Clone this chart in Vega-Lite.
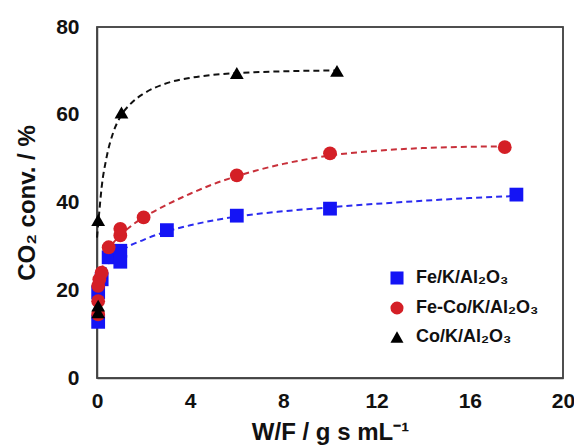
{
  "$schema": "https://vega.github.io/schema/vega-lite/v6.json",
  "width": 466,
  "height": 351,
  "autosize": {"type": "none"},
  "padding": {"left": 97, "top": 27, "right": 11, "bottom": 70},
  "background": "white",
  "config": {
    "font": "Liberation Sans",
    "view": {"stroke": "#444444", "strokeWidth": 1.5}
  },
  "datasets": {
    "frame": [
      {"x": 0, "xe": 20, "y": 0, "ye": 80}
    ],
    "pts": [
      {"s": "Fe/K/Al₂O₃", "x": 0.05, "y": 12.8},
      {"s": "Fe/K/Al₂O₃", "x": 0.05, "y": 19.5},
      {"s": "Fe/K/Al₂O₃", "x": 0.2, "y": 22.5},
      {"s": "Fe/K/Al₂O₃", "x": 0.5, "y": 27.5},
      {"s": "Fe/K/Al₂O₃", "x": 1.0, "y": 26.5},
      {"s": "Fe/K/Al₂O₃", "x": 1.0, "y": 29.0},
      {"s": "Fe/K/Al₂O₃", "x": 3.0, "y": 33.7},
      {"s": "Fe/K/Al₂O₃", "x": 6.0, "y": 37.0},
      {"s": "Fe/K/Al₂O₃", "x": 10.0, "y": 38.6},
      {"s": "Fe/K/Al₂O₃", "x": 18.0, "y": 41.8},
      {"s": "Fe-Co/K/Al₂O₃", "x": 0.05, "y": 14.5},
      {"s": "Fe-Co/K/Al₂O₃", "x": 0.05, "y": 17.5},
      {"s": "Fe-Co/K/Al₂O₃", "x": 0.05, "y": 21.0},
      {"s": "Fe-Co/K/Al₂O₃", "x": 0.1, "y": 22.5},
      {"s": "Fe-Co/K/Al₂O₃", "x": 0.2, "y": 24.0},
      {"s": "Fe-Co/K/Al₂O₃", "x": 0.5, "y": 29.8},
      {"s": "Fe-Co/K/Al₂O₃", "x": 1.0, "y": 32.5},
      {"s": "Fe-Co/K/Al₂O₃", "x": 1.0, "y": 34.0},
      {"s": "Fe-Co/K/Al₂O₃", "x": 2.0, "y": 36.6},
      {"s": "Fe-Co/K/Al₂O₃", "x": 6.0, "y": 46.2},
      {"s": "Fe-Co/K/Al₂O₃", "x": 10.0, "y": 51.2},
      {"s": "Fe-Co/K/Al₂O₃", "x": 17.5, "y": 52.6},
      {"s": "Co/K/Al₂O₃", "x": 0.05, "y": 15.0},
      {"s": "Co/K/Al₂O₃", "x": 0.05, "y": 16.5},
      {"s": "Co/K/Al₂O₃", "x": 0.05, "y": 36.0},
      {"s": "Co/K/Al₂O₃", "x": 1.05, "y": 60.5},
      {"s": "Co/K/Al₂O₃", "x": 6.0, "y": 69.5},
      {"s": "Co/K/Al₂O₃", "x": 10.3, "y": 70.0}
    ],
    "fit": [
      {"c": "Fe", "x": 0.1, "y": 19.5},
      {"c": "Fe", "x": 0.3, "y": 24.0},
      {"c": "Fe", "x": 0.6, "y": 26.8},
      {"c": "Fe", "x": 1.0, "y": 28.8},
      {"c": "Fe", "x": 2.0, "y": 31.5},
      {"c": "Fe", "x": 3.0, "y": 33.4},
      {"c": "Fe", "x": 4.0, "y": 34.8},
      {"c": "Fe", "x": 6.0, "y": 36.8},
      {"c": "Fe", "x": 8.0, "y": 38.0},
      {"c": "Fe", "x": 10.0, "y": 38.9},
      {"c": "Fe", "x": 12.0, "y": 39.7},
      {"c": "Fe", "x": 14.0, "y": 40.4},
      {"c": "Fe", "x": 16.0, "y": 41.0},
      {"c": "Fe", "x": 18.0, "y": 41.5},
      {"c": "FeCo", "x": 0.1, "y": 22.0},
      {"c": "FeCo", "x": 0.3, "y": 26.5},
      {"c": "FeCo", "x": 0.6, "y": 30.0},
      {"c": "FeCo", "x": 1.0, "y": 32.5},
      {"c": "FeCo", "x": 1.5, "y": 34.8},
      {"c": "FeCo", "x": 2.0, "y": 36.6},
      {"c": "FeCo", "x": 3.0, "y": 39.5},
      {"c": "FeCo", "x": 4.0, "y": 42.0},
      {"c": "FeCo", "x": 5.0, "y": 44.2},
      {"c": "FeCo", "x": 6.0, "y": 46.0},
      {"c": "FeCo", "x": 8.0, "y": 48.8},
      {"c": "FeCo", "x": 10.0, "y": 50.7},
      {"c": "FeCo", "x": 12.0, "y": 51.8},
      {"c": "FeCo", "x": 14.0, "y": 52.4},
      {"c": "FeCo", "x": 16.0, "y": 52.7},
      {"c": "FeCo", "x": 17.5, "y": 52.8},
      {"c": "Co", "x": 0.0, "y": 32.0},
      {"c": "Co", "x": 0.1, "y": 38.0},
      {"c": "Co", "x": 0.2, "y": 43.5},
      {"c": "Co", "x": 0.4, "y": 50.0},
      {"c": "Co", "x": 0.7, "y": 56.0},
      {"c": "Co", "x": 1.0, "y": 59.5},
      {"c": "Co", "x": 1.5, "y": 62.8},
      {"c": "Co", "x": 2.0, "y": 64.8},
      {"c": "Co", "x": 3.0, "y": 67.2},
      {"c": "Co", "x": 4.0, "y": 68.4},
      {"c": "Co", "x": 5.0, "y": 69.1},
      {"c": "Co", "x": 6.0, "y": 69.5},
      {"c": "Co", "x": 8.0, "y": 69.9},
      {"c": "Co", "x": 10.3, "y": 70.1}
    ]
  },
  "layer": [
    {
      "data": {"name": "frame"},
      "mark": {"type": "rect", "fillOpacity": 0, "stroke": "#444444", "strokeWidth": 1.5},
      "encoding": {
        "x": {"field": "x", "type": "quantitative"},
        "x2": {"field": "xe"},
        "y": {"field": "y", "type": "quantitative"},
        "y2": {"field": "ye"}
      }
    },
    {
      "data": {"name": "fit"},
      "mark": {"type": "line", "interpolate": "monotone", "strokeDash": [6, 4], "strokeWidth": 2},
      "encoding": {
        "x": {"field": "x", "type": "quantitative"},
        "y": {"field": "y", "type": "quantitative"},
        "detail": {"field": "c"},
        "stroke": {
          "field": "c", "type": "nominal", "legend": null,
          "scale": {"domain": ["Fe", "FeCo", "Co"], "range": ["#2b2bf0", "#c8303a", "#111111"]}
        }
      }
    },
    {
      "data": {"name": "pts"},
      "mark": {"type": "point", "filled": true, "opacity": 1, "size": 190},
      "encoding": {
        "x": {
          "field": "x", "type": "quantitative",
          "scale": {"domain": [0, 20], "nice": false},
          "axis": {
            "orient": "bottom",
            "values": [0, 4, 8, 12, 16, 20],
            "grid": false, "ticks": false, "labelFlush": false, "domainColor": "#444444", "domainWidth": 1.5,
            "labelPadding": 12, "labelFontSize": 21, "labelFontWeight": "bold", "labelColor": "#111111",
            "title": "W/F / g s mL⁻¹", "titleFontSize": 24, "titleFontWeight": "bold", "titleColor": "#111111", "titlePadding": 9
          }
        },
        "y": {
          "field": "y", "type": "quantitative",
          "scale": {"domain": [0, 80], "nice": false},
          "axis": {
            "orient": "left",
            "values": [0, 20, 40, 60, 80],
            "grid": false, "ticks": false, "labelFlush": false, "domainColor": "#444444", "domainWidth": 1.5,
            "labelPadding": 18, "labelFontSize": 21, "labelFontWeight": "bold", "labelColor": "#111111",
            "title": "CO₂ conv. / %", "titleFontSize": 24, "titleFontWeight": "bold", "titleColor": "#111111", "titlePadding": 16
          }
        },
        "color": {
          "field": "s", "type": "nominal",
          "scale": {"domain": ["Fe/K/Al₂O₃", "Fe-Co/K/Al₂O₃", "Co/K/Al₂O₃"], "range": ["#1414f5", "#d41f26", "#000000"]},
          "legend": {
            "title": null, "orient": "none", "legendX": 291, "legendY": 242, "padding": 0,
            "labelFontSize": 18, "labelFontWeight": "bold", "labelColor": "#111111",
            "symbolSize": 170, "rowPadding": 10, "labelOffset": 10, "symbolOpacity": 1
          }
        },
        "shape": {
          "field": "s", "type": "nominal",
          "scale": {"domain": ["Fe/K/Al₂O₃", "Fe-Co/K/Al₂O₃", "Co/K/Al₂O₃"], "range": ["square", "circle", "triangle-up"]}
        }
      }
    }
  ]
}
